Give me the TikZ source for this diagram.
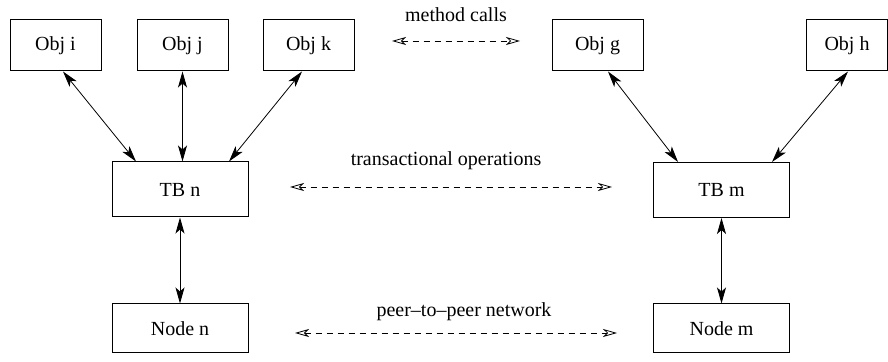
\documentclass[tikz,border=0pt]{standalone}
\usepackage{fontspec}
\setmainfont{Liberation Serif}
\usetikzlibrary{arrows.meta}
\begin{document}
\begin{tikzpicture}[x=0.5pt,y=-0.5pt,line width=0.5pt,font=\fontsize{10}{12}\selectfont,
  obj/.style={draw,inner sep=0pt,minimum width=45.5pt,minimum height=25.5pt},
  tb/.style={draw,inner sep=0pt,minimum width=68pt,minimum height=27.5pt},
  peer/.style={draw,inner sep=0pt,minimum width=68pt,minimum height=24.5pt},
  link/.style={line width=0.4pt,{Stealth[length=8pt,width=4.5pt,inset=2pt]}-{Stealth[length=8pt,width=4.5pt,inset=2pt]}},
  virt/.style={line width=0.4pt,dash pattern=on 3pt off 2.5pt,{Stealth[open,length=7pt,width=4pt,inset=2pt]}-{Stealth[open,length=7pt,width=4pt,inset=2pt]}}]
\useasboundingbox (0,0) rectangle (888,362);
% objects
\node[obj] (oi) at (55.5,45.5) {Obj i};
\node[obj] (oj) at (182.5,45.5) {Obj j};
\node[obj] (ok) at (308.5,45.5) {Obj k};
\node[obj] (og) at (597.5,45.5) {Obj g};
\node[obj,minimum width=40.5pt] (oh) at (847,45.5) {Obj h};
% transactional buffers
\node[tb] (tbn) at (180,189.5) {TB n};
\node[tb] (tbm) at (721.5,190) {TB m};
% peers
\node[peer] (nn) at (180,328.5) {Node n};
\node[peer] (nm) at (721.5,328.5) {Node m};
% links
\draw[link] ([xshift=3.75pt]oi.south) -- ([xshift=-22pt]tbn.north);
\draw[link] (oj.south) -- (oj.south |- tbn.north);
\draw[link] ([xshift=-3.25pt]ok.south) -- ([xshift=24.5pt]tbn.north);
\draw[link] ([xshift=5.25pt]og.south) -- ([xshift=-21.75pt]tbm.north);
\draw[link] ([xshift=0.5pt]oh.south) -- ([xshift=25.25pt]tbm.north);
\draw[link] (tbn.south) -- (nn.north);
\draw[link] (tbm.south) -- (nm.north);
% virtual links
\coordinate (mc1) at (392,41);\coordinate (mc2) at (520,41);
\coordinate (to1) at (290,187);\coordinate (to2) at (612,187);
\coordinate (pp1) at (295,333);\coordinate (pp2) at (617,333);
\draw[virt] (mc1) -- (mc2);
\draw[virt] (to1) -- (to2);
\draw[virt] (pp1) -- (pp2);
\node (lmc) at (456,15) {method calls};
\node (lto) at (446,161) {transactional operations};
\node (lpp) at (464,312) {peer--to--peer network};
\end{tikzpicture}
\end{document}
